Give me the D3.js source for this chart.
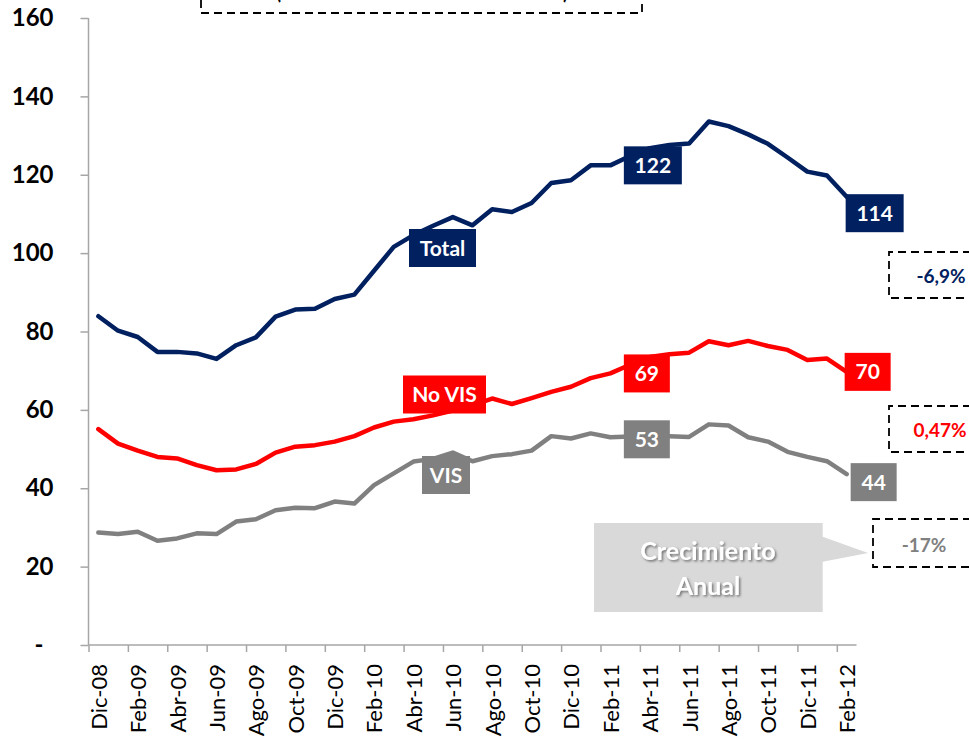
<!DOCTYPE html>
<html>
<head>
<meta charset="utf-8">
<script src="https://cdn.jsdelivr.net/npm/d3@7"></script>
<style>
  body { margin: 0; background: #fff; }
  svg { display: block; }
</style>
</head>
<body>
<div id="container"></div>
<script>
// Data
var months = ["Dic-08","Ene-09","Feb-09","Mar-09","Abr-09","May-09","Jun-09","Jul-09","Ago-09","Sep-09",
  "Oct-09","Nov-09","Dic-09","Ene-10","Feb-10","Mar-10","Abr-10","May-10","Jun-10","Jul-10",
  "Ago-10","Sep-10","Oct-10","Nov-10","Dic-10","Ene-11","Feb-11","Mar-11","Abr-11","May-11",
  "Jun-11","Jul-11","Ago-11","Sep-11","Oct-11","Nov-11","Dic-11","Ene-12","Feb-12"];

var total = [83.9, 80.2, 78.6, 74.8, 74.8, 74.4, 73.0, 76.5, 78.5, 83.8, 85.6, 85.8, 88.3, 89.4, 95.5,
  101.6, 104.6, 107.0, 109.2, 107.1, 111.2, 110.5, 112.8, 117.9, 118.6, 122.4, 122.4, 124.8, 126.8,
  127.6, 128.0, 133.6, 132.4, 130.3, 127.9, 124.4, 120.8, 119.8, 114.4];

var noVis = [55.1, 51.4, 49.6, 48.0, 47.6, 45.9, 44.6, 44.8, 46.2, 49.1, 50.6, 51.0, 51.9, 53.3, 55.5,
  57.0, 57.6, 58.6, 59.8, 61.2, 62.9, 61.5, 63.0, 64.6, 65.9, 68.1, 69.3, 71.5, 73.5, 74.2, 74.6,
  77.5, 76.5, 77.6, 76.3, 75.3, 72.7, 73.1, 69.7];

var vis = [28.7, 28.3, 28.9, 26.6, 27.2, 28.5, 28.3, 31.5, 32.1, 34.4, 35.0, 34.9, 36.6, 36.1, 40.8,
  43.8, 46.8, 47.5, 49.1, 46.9, 48.2, 48.7, 49.6, 53.3, 52.7, 54.0, 53.0, 53.2, 53.3, 53.3, 53.1,
  56.3, 56.0, 53.0, 51.9, 49.3, 48.0, 46.9, 43.6];

var seriesNames = ["Total", "No VIS", "VIS"];
var growth = ["-6,9%", "0,47%", "-17%"];
var yTicks = [0, 20, 40, 60, 80, 100, 120, 140, 160];

// General settings
var W = 969, H = 739,
col = {total: "#002060", novis: "#FF0000", vis: "#808080", axis: "#A6A6A6", callout: "#D9D9D9"},
font = "Lato, 'Open Sans', sans-serif",
lineWidth = 4.5,
dash = "8,5";

var svg = d3.select("#container")
    .append("svg")
        .attr("width", W)
        .attr("height", H);

var defs = svg.append("defs");
defs.append("filter")
    .attr("id", "shadow")
    .attr("x", "-10%").attr("y", "-20%").attr("width", "120%").attr("height", "140%")
    .append("feDropShadow")
        .attr("dx", 1.5).attr("dy", 1.5)
        .attr("stdDeviation", 1)
        .attr("flood-color", "#595959")
        .attr("flood-opacity", 0.8);

// scales: index scale over category boundaries
var x = d3.scaleLinear()
    .domain([0, months.length])
    .range([88.5, 856.5]);
var y = d3.scaleLinear()
    .domain([0, 160])
    .range([645, 18]);
var px = function(i) { return x(i + 0.5); };

// top box (title box cut off by the frame)
svg.append("path")
    .attr("d", "M201,0 V13 H642 V0")
    .attr("fill", "none")
    .attr("stroke", "#000")
    .attr("stroke-width", 1.8)
    .attr("stroke-dasharray", dash);
svg.append("text")
    .attr("x", 422)
    .attr("y", -1)
    .attr("text-anchor", "middle")
    .attr("textLength", 292)
    .attr("lengthAdjust", "spacingAndGlyphs")
    .style("font-family", font)
    .style("font-weight", "bold")
    .style("font-size", "22px")
    .text("(Miles de unidades - total 12 meses)");

// Y axis
var yAxis = svg.append("g")
    .attr("transform", "translate(" + x(0) + ",0)")
    .call(d3.axisLeft(y)
        .tickValues(yTicks)
        .tickSize(8)
        .tickPadding(27)
        .tickFormat(function(d) { return d === 0 ? "-" : d; }));
yAxis.selectAll("path, line").attr("stroke", col.axis).attr("stroke-width", 1.5);
yAxis.select(".domain").attr("d", "M0," + y(160) + "V" + y(0));
yAxis.selectAll("text")
    .style("font-family", font)
    .style("font-weight", "bold")
    .style("font-size", "24px")
    .attr("fill", "#000")
    .attr("dx", function(d) { return d === 0 ? -10 : 0; });

// X axis: ticks every two months on category boundaries
var xTickAxis = svg.append("g")
    .attr("transform", "translate(0," + y(0) + ")")
    .call(d3.axisBottom(x)
        .tickValues(d3.range(0, months.length, 2))
        .tickSize(7)
        .tickFormat(""));
xTickAxis.selectAll("path, line").attr("stroke", col.axis).attr("stroke-width", 1.5);
xTickAxis.select(".domain").attr("d", "M" + x(0) + ",0H" + x(months.length));

// X labels at the centre of each even month
var xLabelAxis = svg.append("g")
    .attr("transform", "translate(0," + y(0) + ")")
    .call(d3.axisBottom(x)
        .tickValues(d3.range(0, months.length, 2).map(function(i) { return i + 0.5; }))
        .tickSize(0)
        .tickFormat(function(d) { return months[d - 0.5]; }));
xLabelAxis.select(".domain").remove();
xLabelAxis.selectAll("text")
    .attr("transform", "rotate(-90)")
    .attr("text-anchor", "end")
    .attr("x", -19)
    .attr("y", 0)
    .attr("dy", "0.36em")
    .style("font-family", font)
    .style("font-size", "22px")
    .attr("fill", "#000");

// lines
var line = d3.line()
    .x(function(d, i) { return px(i); })
    .y(function(d) { return y(d); });

var series = [
    {name: seriesNames[0], values: total, color: col.total},
    {name: seriesNames[1], values: noVis, color: col.novis},
    {name: seriesNames[2], values: vis, color: col.vis}
];

svg.append("g").selectAll("path")
    .data(series)
    .enter()
    .append("path")
        .attr("d", function(d) { return line(d.values); })
        .attr("fill", "none")
        .attr("stroke", function(d) { return d.color; })
        .attr("stroke-width", lineWidth)
        .attr("stroke-linejoin", "round")
        .attr("stroke-linecap", "round");

// boxed labels
function boxLabel(cx, cy, w, txt, color) {
    var g = svg.append("g");
    g.append("rect")
        .attr("x", cx - w / 2)
        .attr("y", cy - 19)
        .attr("width", w)
        .attr("height", 38)
        .attr("fill", color);
    g.append("text")
        .attr("x", cx)
        .attr("y", cy)
        .attr("dy", "0.36em")
        .attr("text-anchor", "middle")
        .style("font-family", font)
        .style("font-weight", "bold")
        .style("font-size", "21px")
        .attr("fill", "#fff")
        .text(txt);
}

var fmt = d3.format(".0f");
var mid = 26, last = months.length - 1;

// series names
boxLabel(442.5, 248, 67, series[0].name, col.total);
boxLabel(444.5, 394.5, 83, series[1].name, col.novis);
boxLabel(446, 475, 48, series[2].name, col.vis);

// values at Feb-11
boxLabel(px(mid) + 42.5, y(total[mid]), 58, fmt(total[mid]), col.total);
boxLabel(px(mid) + 36.5, y(noVis[mid]), 46, fmt(noVis[mid]), col.novis);
boxLabel(px(mid) + 36.5, y(vis[mid]) + 2, 46, fmt(vis[mid]), col.vis);

// values at Feb-12
boxLabel(px(last) + 28, y(total[last]) + 16.5, 58, fmt(total[last]), col.total);
boxLabel(px(last) + 21, y(noVis[last]), 46, fmt(noVis[last]), col.novis);
boxLabel(px(last) + 27, y(vis[last]) + 8, 46, fmt(vis[last]), col.vis);

// annual growth dashed boxes
var growthBoxes = [
    {x: 889, y0: 252, y1: 298, tx: 941, ty: 283, color: col.total},
    {x: 889, y0: 406, y1: 452, tx: 940, ty: 437, color: col.novis},
    {x: 873, y0: 519, y1: 567, tx: 924, ty: 552, color: col.vis}
];
growthBoxes.forEach(function(b, i) {
    svg.append("path")
        .attr("d", "M" + (W + 2) + "," + b.y0 + "H" + b.x + "V" + b.y1 + "H" + (W + 2))
        .attr("fill", "none")
        .attr("stroke", "#000")
        .attr("stroke-width", 1.8)
        .attr("stroke-dasharray", dash);
    svg.append("text")
        .attr("x", b.tx)
        .attr("y", b.ty)
        .attr("text-anchor", "middle")
        .style("font-family", font)
        .style("font-weight", "bold")
        .style("font-size", "19px")
        .attr("fill", b.color)
        .text(growth[i]);
});

// "Crecimiento Anual" callout
svg.append("path")
    .attr("d", "M594,523 H822.7 V536.7 L868,553 L822.7,561.7 V612 H594 Z")
    .attr("fill", col.callout);
svg.append("text")
    .attr("x", 708)
    .attr("text-anchor", "middle")
    .attr("filter", "url(#shadow)")
    .style("font-family", font)
    .style("font-weight", "bold")
    .style("font-size", "25px")
    .attr("fill", "#fff")
    .selectAll("tspan")
    .data(["Crecimiento", "Anual"])
    .enter()
    .append("tspan")
        .attr("x", 708)
        .attr("y", function(d, i) { return 560 + i * 35; })
        .text(function(d) { return d; });
</script>
</body>
</html>
